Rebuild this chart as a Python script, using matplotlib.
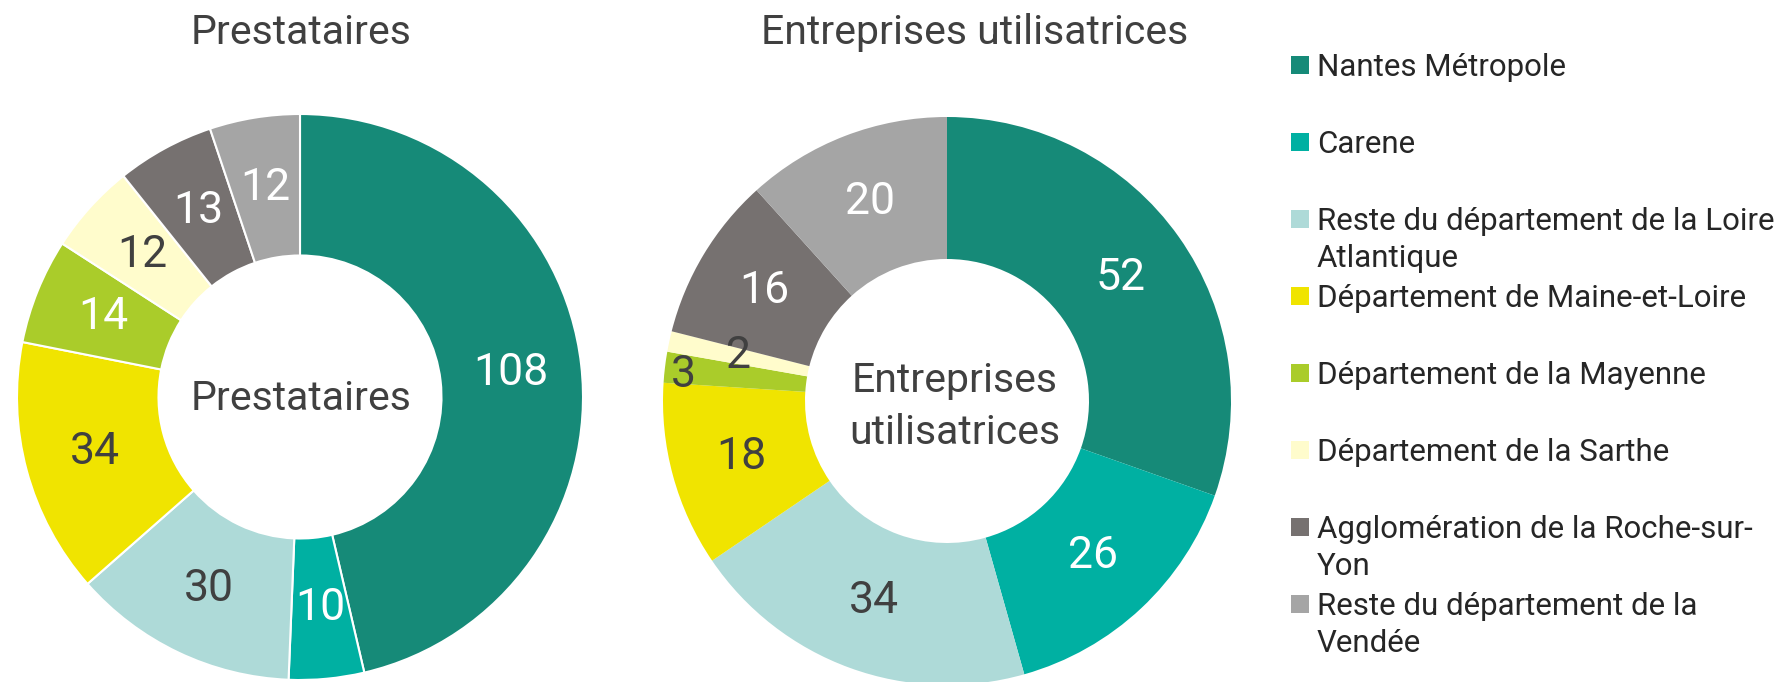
import numpy as np
import matplotlib
matplotlib.use("Agg")
import matplotlib.pyplot as plt
from matplotlib.patches import Rectangle

# ---- data ----
categories = ["Nantes Métropole", "Carene",
              "Reste du département de la Loire\nAtlantique",
              "Département de Maine-et-Loire", "Département de la Mayenne",
              "Département de la Sarthe",
              "Agglomération de la Roche-sur-\nYon",
              "Reste du département de la\nVendée"]
prestataires = [108, 10, 30, 34, 14, 12, 13, 12]
entreprises = [52, 26, 34, 18, 3, 2, 16, 20]
title_left = "Prestataires"
title_right = "Entreprises utilisatrices"
center_left = "Prestataires"
center_right = "Entreprises\nutilisatrices"

# ---- style ----
colors = ["#168A78", "#00B0A2", "#AEDAD8", "#F0E400", "#AACC2A",
          "#FFFCCC", "#767170", "#A5A5A5"]
DARK = "#404040"
lab_col_left = ["white", "white", DARK, DARK, "white", DARK, "white", "white"]
lab_col_right = ["white", "white", DARK, DARK, DARK, DARK, "white", "white"]
lab_r_right = [0.75, 0.75, 0.75, 0.75, 0.933, 0.75, 0.75, 0.75]
lab_da_right = [0, 0, 0, 0, 1.2, 0, 0, 0]
FONT = ["Roboto", "DejaVu Sans"]
WEIGHT = "normal"
plt.rcParams["font.family"] = FONT

W, H = 1784, 682
fig = plt.figure(figsize=(W / 100, H / 100), dpi=100)
fig.patch.set_facecolor("white")


def px_axes(cx, cy, r):
    return fig.add_axes([(cx - r) / W, (H - cy - r) / H, 2 * r / W, 2 * r / H])


def donut(ax, values, edge, lab_cols, lab_r, lab_da):
    wedges, _ = ax.pie(values, colors=colors, startangle=90, counterclock=False,
                       radius=1.0,
                       wedgeprops=dict(width=0.5, edgecolor=edge,
                                       linewidth=1.5 if edge != "none" else 0))
    for w, v, c, rr, da in zip(wedges, values, lab_cols, lab_r, lab_da):
        ang = np.deg2rad((w.theta1 + w.theta2) / 2 + da)
        ax.text(rr * np.cos(ang), rr * np.sin(ang), str(v), ha="center",
                va="center", fontsize=32, color=c, fontweight=WEIGHT)
    ax.set_xlim(-1, 1)
    ax.set_ylim(-1, 1)
    ax.set_aspect("equal")
    ax.axis("off")


axL = px_axes(300, 397, 283)
donut(axL, prestataires, "white", lab_col_left, [0.75] * 8, [0] * 8)
axR = px_axes(947, 401, 284)
donut(axR, entreprises, "none", lab_col_right, lab_r_right, lab_da_right)

# titles
fig.text(301 / W, 1 - 44 / H, title_left, ha="center", va="baseline",
         fontsize=29.5, color=DARK, fontweight=WEIGHT)
fig.text(975 / W, 1 - 44 / H, title_right, ha="center", va="baseline",
         fontsize=29.5, color=DARK, fontweight=WEIGHT)
# center labels
fig.text(301 / W, 1 - 410 / H, center_left, ha="center", va="baseline",
         fontsize=29.5, color=DARK, fontweight=WEIGHT)
for k, line in enumerate(center_right.split("\n")):
    fig.text(955 / W, 1 - (392 + 52 * k) / H, line, ha="center", va="baseline",
             fontsize=29.5, color=DARK, fontweight=WEIGHT)

# legend
for i, (lab, col) in enumerate(zip(categories, colors)):
    yc = 65 + 77 * i
    fig.patches.append(Rectangle((1291 / W, 1 - (yc + 9) / H), 18 / W, 18 / H,
                                 transform=fig.transFigure, facecolor=col,
                                 edgecolor="none"))
    for k, line in enumerate(lab.split("\n")):
        fig.text(1317 / W, 1 - (yc + 11 + 37 * k) / H, line, ha="left",
                 va="baseline", fontsize=22.5, color="#262626",
                 fontweight=WEIGHT)

fig.savefig("out.png", dpi=100, facecolor="white")
